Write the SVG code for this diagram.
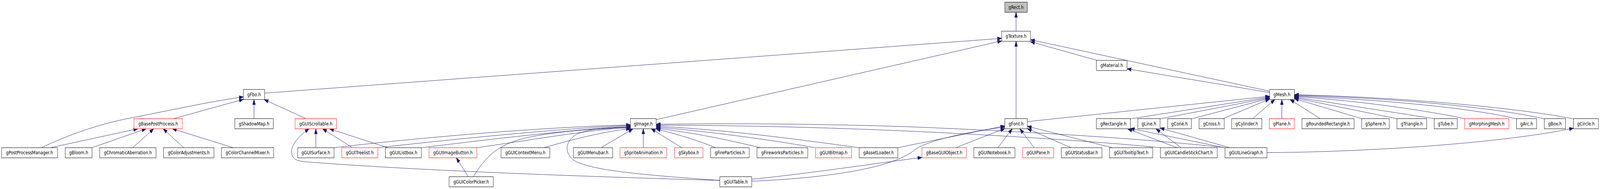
<svg xmlns="http://www.w3.org/2000/svg" width="5039" height="485" viewBox="0 0 5039 485" preserveAspectRatio="none">
<style>
svg{width:100vw;height:100vh}
.node rect{fill:#ffffff;stroke:#000000;stroke-width:1}
.node.red rect{stroke:#ff0000}
.node.root rect{fill:#bfbfbf}
.node text{font-family:"DejaVu Sans","Liberation Sans",sans-serif;font-size:12.6px;text-anchor:middle;fill:#000000}
.edges path{fill:none;stroke:#191970;stroke-width:1;marker-end:url(#arr)}
</style>
<defs>
<marker id="arr" markerUnits="userSpaceOnUse" markerWidth="14" markerHeight="10" viewBox="0 0 14 10" refX="13.5" refY="5" orient="auto">
<path d="M0.5,0.5 L13.5,5 L0.5,9.5 z" fill="#191970" stroke="#191970" stroke-width="1"/>
</marker>
</defs>
<rect x="0" y="0" width="5039" height="485" fill="#ffffff"/>
<g id="edges" class="edges">
<path d="M3200,80 L3200,31.5"/>
<path d="M833.5,239 L3154.5,98.5"/>
<path d="M2066.5,307 L3154.5,105"/>
<path d="M3200,304.5 L3200,106"/>
<path d="M3455,155 L3245.5,107"/>
<path d="M3998.5,234 L3245.5,102"/>
<path d="M3998.5,237.5 L3549.5,176.5"/>
<path d="M130.5,379 C200,352 300,320 410,303 S650,262 766.5,248.5"/>
<path d="M546.5,304.5 L766.5,255"/>
<path d="M800,304.5 L800,255.5"/>
<path d="M963.5,304.5 L832,255.5"/>
<path d="M158.5,379 L434,330.5"/>
<path d="M289.5,379 L460,330.5"/>
<path d="M418,379 L484,330.5"/>
<path d="M578.5,379 L514,330.5"/>
<path d="M734.5,379 L543,330.5"/>
<path d="M994.8,379 L994.8,330.5"/>
<path d="M1110,379 L1016,330.5"/>
<path d="M1220.5,379 L1038,330.5"/>
<path d="M2267,463 C1800,452 1300,437 960,415 C935,413 922,408 919,395 C915,375 935,352 973.5,330.5"/>
<path d="M1052,379 C1300,355 1700,326 1985.5,320.5"/>
<path d="M1190,379 C1400,360 1750,330 1985.5,322"/>
<path d="M1327,379 C1500,362 1800,332 1985.5,324"/>
<path d="M1502,379 C1650,362 1850,334 1985.5,326"/>
<path d="M1491,453.5 C1530,400 1570,370 1660,353 C1760,336 1880,330 1985.5,328"/>
<path d="M1714,379 C1800,358 1900,338 1985.5,330"/>
<path d="M2267,463 C2050,450 1880,440 1815,415 C1775,398 1778,362 1815,345 C1860,328 1930,327 1985.5,327"/>
<path d="M1893,379 L1993,331"/>
<path d="M2026,379 L2026,330.5"/>
<path d="M2147,379 L2051,330.5"/>
<path d="M2254,379 C2180,355 2120,342 2066.5,331"/>
<path d="M2394,379 C2300,360 2180,340 2066.5,329"/>
<path d="M2567,379 C2450,362 2250,338 2066.5,326.5"/>
<path d="M2706,379 C2550,362 2300,333 2066.5,324"/>
<path d="M3654,379 C3450,362 3100,345 2850,336 C2600,327 2300,321 2066.5,321.5"/>
<path d="M3858,379 C3600,355 3200,336 2850,325 C2600,318 2300,316 2066.5,319"/>
<path d="M1475,453.5 L1437,405"/>
<path d="M2367.5,460 C2550,445 2750,420 2903.5,404"/>
<path d="M2367.5,465 C2650,455 2820,425 2880,385 C2920,360 3050,338 3164.5,326"/>
<path d="M2827.5,379 L3164.5,323"/>
<path d="M3010,379 L3164.5,330"/>
<path d="M3143,379 L3188,330.5"/>
<path d="M3257,379 L3212,330.5"/>
<path d="M3373,379 L3235.5,330"/>
<path d="M3503,379 L3235.5,324"/>
<path d="M3235.5,312 L3998.5,247"/>
<path d="M3560,305 L3998.5,249"/>
<path d="M3653.5,305 L3998.5,251"/>
<path d="M3752,305 L3998.5,252.5"/>
<path d="M3852,304.5 L3998.5,254"/>
<path d="M3945,304.5 L4015,255.5"/>
<path d="M4037,304.5 L4037,255.5"/>
<path d="M4158,304.5 L4063,255.5"/>
<path d="M4288.5,304.5 L4076.5,253"/>
<path d="M4399.5,304.5 L4076.5,251"/>
<path d="M4517,304.5 L4076.5,249"/>
<path d="M4613,304.5 C4500,285 4300,260 4076.5,247.5"/>
<path d="M4776.5,305 C4650,280 4400,258 4076.5,246"/>
<path d="M4863.5,305 C4700,275 4400,252 4076.5,244.5"/>
<path d="M4955.5,305 C4800,280 4450,250 4076.5,243"/>
<path d="M3707,379 L3552,331"/>
<path d="M3720,379 L3641,331"/>
<path d="M3857,379 L3560,329.5"/>
<path d="M3873,379 L3653.5,328.5"/>
<path d="M3990,391.5 C4250,391 4700,372 4955.5,329"/>
</g>
<g id="n_gRect" class="node root"><rect x="3164.5" y="5.5" width="71" height="26"/><text x="3200" y="22.8">gRect.h</text></g>
<g id="n_gTexture" class="node"><rect x="3154.5" y="80" width="91" height="26"/><text x="3200" y="97.3">gTexture.h</text></g>
<g id="n_gMaterial" class="node"><rect x="3453" y="155" width="96.5" height="26"/><text x="3501.2" y="172.3">gMaterial.h</text></g>
<g id="n_gFbo" class="node"><rect x="766.5" y="229.5" width="67" height="26"/><text x="800" y="246.8">gFbo.h</text></g>
<g id="n_gMesh" class="node"><rect x="3998.5" y="229.5" width="78" height="26"/><text x="4037.5" y="246.8">gMesh.h</text></g>
<g id="n_gBasePostProcess" class="node red"><rect x="422" y="304.5" width="152.5" height="26"/><text x="498.2" y="321.8">gBasePostProcess.h</text></g>
<g id="n_gShadowMap" class="node"><rect x="739.5" y="304.5" width="121" height="26"/><text x="800" y="321.8">gShadowMap.h</text></g>
<g id="n_gGUIScrollable" class="node red"><rect x="929.5" y="304.5" width="130.5" height="26"/><text x="994.8" y="321.8">gGUIScrollable.h</text></g>
<g id="n_gImage" class="node"><rect x="1985.5" y="304.5" width="81" height="26"/><text x="2026" y="321.8">gImage.h</text></g>
<g id="n_gFont" class="node"><rect x="3164.5" y="304.5" width="71" height="26"/><text x="3200" y="321.8">gFont.h</text></g>
<g id="n_gRectangle" class="node"><rect x="3453" y="304.5" width="107" height="26"/><text x="3506.5" y="321.8">gRectangle.h</text></g>
<g id="n_gLine" class="node"><rect x="3583.5" y="304.5" width="70" height="26"/><text x="3618.5" y="321.8">gLine.h</text></g>
<g id="n_gCone" class="node"><rect x="3677.5" y="304.5" width="74.5" height="26"/><text x="3714.7" y="321.8">gCone.h</text></g>
<g id="n_gCross" class="node"><rect x="3776.5" y="304.5" width="79" height="26"/><text x="3816" y="321.8">gCross.h</text></g>
<g id="n_gCylinder" class="node"><rect x="3879" y="304.5" width="95" height="26"/><text x="3926.5" y="321.8">gCylinder.h</text></g>
<g id="n_gPlane" class="node red"><rect x="3997.5" y="304.5" width="79" height="26"/><text x="4037" y="321.8">gPlane.h</text></g>
<g id="n_gRoundedRectangle" class="node"><rect x="4100.5" y="304.5" width="164" height="26"/><text x="4182.5" y="321.8">gRoundedRectangle.h</text></g>
<g id="n_gSphere" class="node"><rect x="4288.5" y="304.5" width="87" height="26"/><text x="4332" y="321.8">gSphere.h</text></g>
<g id="n_gTriangle" class="node"><rect x="4399.5" y="304.5" width="94" height="26"/><text x="4446.5" y="321.8">gTriangle.h</text></g>
<g id="n_gTube" class="node"><rect x="4517" y="304.5" width="72.5" height="26"/><text x="4553.2" y="321.8">gTube.h</text></g>
<g id="n_gMorphingMesh" class="node red"><rect x="4613" y="304.5" width="139" height="26"/><text x="4682.5" y="321.8">gMorphingMesh.h</text></g>
<g id="n_gArc" class="node"><rect x="4776.5" y="304.5" width="63" height="26"/><text x="4808" y="321.8">gArc.h</text></g>
<g id="n_gBox" class="node"><rect x="4863.5" y="304.5" width="67" height="26"/><text x="4897" y="321.8">gBox.h</text></g>
<g id="n_gCircle" class="node"><rect x="4955.5" y="304.5" width="78.5" height="26"/><text x="4994.7" y="321.8">gCircle.h</text></g>
<g id="n_gPostProcessManager" class="node"><rect x="5" y="379" width="176" height="26"/><text x="93" y="396.3">gPostProcessManager.h</text></g>
<g id="n_gBloom" class="node"><rect x="205.5" y="379" width="84.5" height="26"/><text x="247.7" y="396.3">gBloom.h</text></g>
<g id="n_gChromaticAberration" class="node"><rect x="314" y="379" width="177.5" height="26"/><text x="402.7" y="396.3">gChromaticAberration.h</text></g>
<g id="n_gColorAdjustments" class="node"><rect x="515" y="379" width="159" height="26"/><text x="594.5" y="396.3">gColorAdjustments.h</text></g>
<g id="n_gColorChannelMixer" class="node"><rect x="697.5" y="379" width="164.5" height="26"/><text x="779.7" y="396.3">gColorChannelMixer.h</text></g>
<g id="n_gGUISurface" class="node"><rect x="937.5" y="379" width="114.5" height="26"/><text x="994.7" y="396.3">gGUISurface.h</text></g>
<g id="n_gGUITreelist" class="node red"><rect x="1076.5" y="379" width="113.5" height="26"/><text x="1133.2" y="396.3">gGUITreelist.h</text></g>
<g id="n_gGUIListbox" class="node"><rect x="1214" y="379" width="113" height="26"/><text x="1270.5" y="396.3">gGUIListbox.h</text></g>
<g id="n_gGUIImageButton" class="node red"><rect x="1351" y="379" width="151" height="26"/><text x="1426.5" y="396.3">gGUIImageButton.h</text></g>
<g id="n_gGUIContextMenu" class="node"><rect x="1578" y="379" width="153.5" height="26"/><text x="1654.7" y="396.3">gGUIContextMenu.h</text></g>
<g id="n_gGUIMenubar" class="node"><rect x="1806" y="379" width="123.5" height="26"/><text x="1867.7" y="396.3">gGUIMenubar.h</text></g>
<g id="n_gSpriteAnimation" class="node red"><rect x="1952.5" y="379" width="147.5" height="26"/><text x="2026.2" y="396.3">gSpriteAnimation.h</text></g>
<g id="n_gSkybox" class="node red"><rect x="2124" y="379" width="90" height="26"/><text x="2169" y="396.3">gSkybox.h</text></g>
<g id="n_gFireParticles" class="node"><rect x="2238" y="379" width="121.5" height="26"/><text x="2298.7" y="396.3">gFireParticles.h</text></g>
<g id="n_gFireworksParticles" class="node"><rect x="2384" y="379" width="160" height="26"/><text x="2464" y="396.3">gFireworksParticles.h</text></g>
<g id="n_gGUIBitmap" class="node red"><rect x="2568.5" y="379" width="113.5" height="26"/><text x="2625.2" y="396.3">gGUIBitmap.h</text></g>
<g id="n_gAssetLoader" class="node"><rect x="2706" y="379" width="121.5" height="26"/><text x="2766.7" y="396.3">gAssetLoader.h</text></g>
<g id="n_gBaseGUIObject" class="node red"><rect x="2903.5" y="379" width="140" height="26"/><text x="2973.5" y="396.3">gBaseGUIObject.h</text></g>
<g id="n_gGUINotebook" class="node"><rect x="3067" y="379" width="129.5" height="26"/><text x="3131.7" y="396.3">gGUINotebook.h</text></g>
<g id="n_gGUIPane" class="node red"><rect x="3220.5" y="379" width="98" height="26"/><text x="3269.5" y="396.3">gGUIPane.h</text></g>
<g id="n_gGUIStatusBar" class="node"><rect x="3342.5" y="379" width="128" height="26"/><text x="3406.5" y="396.3">gGUIStatusBar.h</text></g>
<g id="n_gGUITooltipText" class="node"><rect x="3494.5" y="379" width="136" height="26"/><text x="3562.5" y="396.3">gGUITooltipText.h</text></g>
<g id="n_gGUICandleStickChart" class="node"><rect x="3654.5" y="379" width="179" height="26"/><text x="3744" y="396.3">gGUICandleStickChart.h</text></g>
<g id="n_gGUILineGraph" class="node"><rect x="3858" y="379" width="132" height="26"/><text x="3924" y="396.3">gGUILineGraph.h</text></g>
<g id="n_gGUIColorPicker" class="node"><rect x="1414.5" y="453.5" width="139" height="26"/><text x="1484" y="470.8">gGUIColorPicker.h</text></g>
<g id="n_gGUITable" class="node"><rect x="2267" y="453.5" width="100.5" height="26"/><text x="2317.2" y="470.8">gGUITable.h</text></g>
</svg>
